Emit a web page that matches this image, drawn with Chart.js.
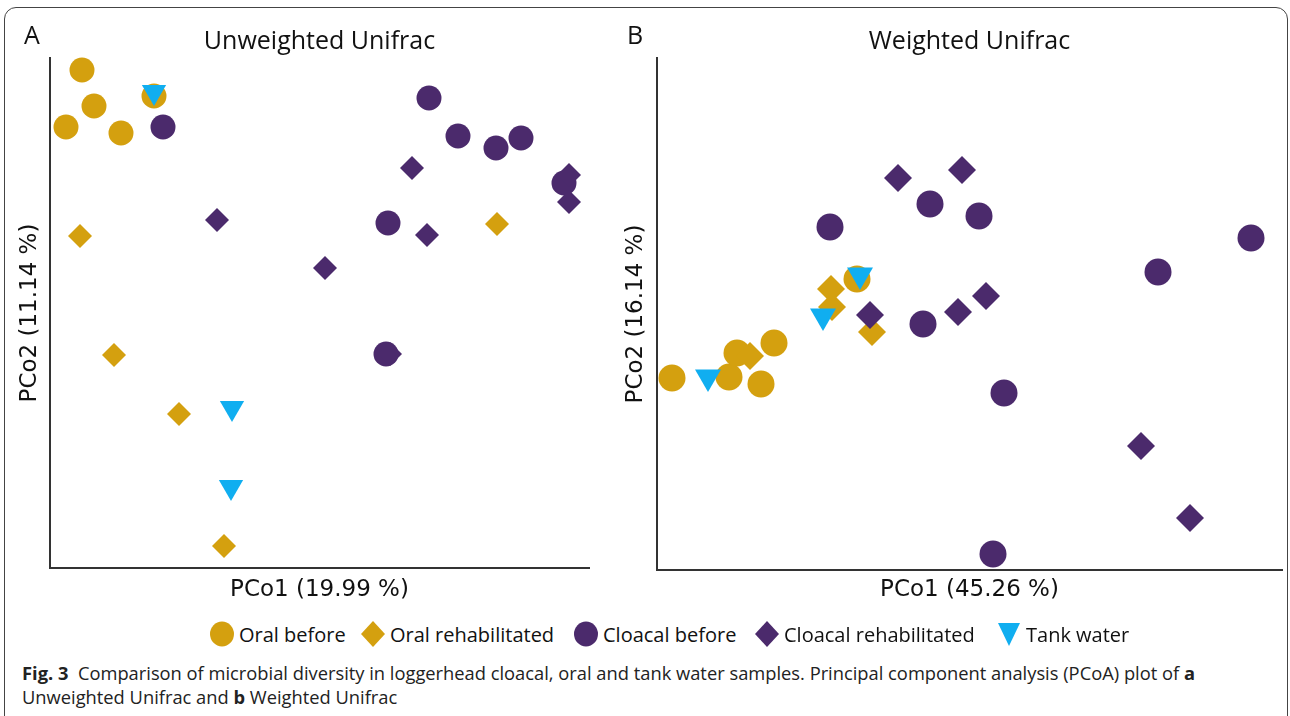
<!DOCTYPE html>
<html>
<head>
<meta charset="utf-8">
<script src="https://cdn.jsdelivr.net/npm/chart.js@4.4.1/dist/chart.umd.min.js"></script>
<style>
  html, body { margin: 0; padding: 0; background: #fff; }
  body { width: 1290px; height: 716px; position: relative; overflow: hidden; font-family: "Open Sans", sans-serif; color: #111; }
  #frame { position: absolute; left: 4px; top: 7px; width: 1284px; height: 730px; border: 1.5px solid #444; border-radius: 12px; box-sizing: border-box; }
  canvas { position: absolute; top: 0; }
  #cA { left: 0; }
  #cB { left: 606px; }
  .panel { position: absolute; font-size: 25px; font-family: "Open Sans", sans-serif; color: #111; line-height: 1; }
  .leg { position: absolute; top: 621px; height: 26px; display: flex; align-items: center; font-size: 20px; font-family: "Open Sans", sans-serif; color: #111; white-space: nowrap; }
  .leg svg { margin-right: 4px; }
  .cap { position: absolute; left: 22px; font-size: 17.5px; font-family: "Open Sans", sans-serif; color: #222; white-space: nowrap; transform-origin: left center; }
  .cap b { font-weight: 700; }
</style>
</head>
<body>
<div id="frame"></div>
<canvas id="cA" width="640" height="620"></canvas>
<canvas id="cB" width="684" height="620"></canvas>
<div class="panel" style="left:24px; top:22px;">A</div>
<div class="panel" style="left:627px; top:22px;">B</div>
<div id="legend"></div>
<div class="cap" id="cap1" style="top:661px;"><b>Fig. 3</b>&nbsp; Comparison of microbial diversity in loggerhead cloacal, oral and tank water samples. Principal component analysis (PCoA) plot of <b>a</b></div>
<div class="cap" id="cap2" style="top:685px;">Unweighted Unifrac and <b>b</b> Weighted Unifrac</div>
<script>
// ---- Data (arbitrary PCoA units) ----
const seriesNames = ["Oral before", "Oral rehabilitated", "Cloacal before", "Cloacal rehabilitated", "Tank water"];
const seriesColors = ["#D4A00F", "#D4A00F", "#4B2A6C", "#4B2A6C", "#10AEF0"];

// Panel A: Unweighted Unifrac  [PCo1, PCo2]
const unwOralBefore = [[32,498],[44,462],[16,441],[71,435],[104,472]];
const unwOralRehab = [[30,332],[64,213],[129,154],[174,22],[447,344]];
const unwCloacalBefore = [[113,441],[379,470],[408,432],[446,420],[471,430],[514,385],[338,345],[336,214]];
const unwCloacalRehab = [[362,400],[167,348],[275,300],[377,333],[519,393],[519,366],[340,214]];
const unwTank = [[104,476],[182,160],[181,81]];

// Panel B: Weighted Unifrac  [PCo1, PCo2]
const wOralBefore = [[200,291],[15,192],[72,193],[80,217],[117,227],[104,186]];
const wOralRehab = [[174,281],[175,263],[215,238],[93,214]];
const wCloacalBefore = [[273,366],[322,354],[173,343],[594,332],[501,298],[266,246],[347,177],[336,16]];
const wCloacalRehab = [[241,392],[305,400],[213,255],[301,258],[329,274],[484,124],[533,52]];
const wTank = [[203,295],[166,254],[51,193]];

const axisA = { xTitle: "PCo1 (19.99 %)", yTitle: "PCo2 (11.14 %)", xMax: 539, yMax: 510 };
const axisB = { xTitle: "PCo1 (45.26 %)", yTitle: "PCo2 (16.14 %)", xMax: 625, yMax: 512 };

const shapes = ["circle", "rectRot", "circle", "rectRot", "triangle"];
const drawOrder = [4, 3, 2, 1, 0];

function toXY(arr) { return arr.map(p => ({ x: p[0], y: p[1] })); }

function buildDatasets(groups, sizes) {
  return groups.map((g, i) => ({
    label: seriesNames[i],
    data: toXY(g),
    backgroundColor: seriesColors[i],
    borderWidth: 0,
    pointStyle: shapes[i],
    pointRadius: sizes[i],
    pointRotation: i === 4 ? 180 : 0,
    order: drawOrder[i],
    clip: false
  }));
}

function makeChart(id, title, groups, sizes, axis, padRight, yWidth, xHeight) {
  const axisFont = { family: "DejaVu Sans", size: 23, lineHeight: 1.2 };
  return new Chart(document.getElementById(id), {
    type: "scatter",
    data: { datasets: buildDatasets(groups, sizes) },
    options: {
      responsive: false,
      animation: false,
      events: [],
      layout: { autoPadding: false, padding: { left: 0, right: padRight, top: 0, bottom: 0 } },
      plugins: {
        legend: { display: false },
        tooltip: { enabled: false },
        title: {
          display: true, text: title, fullSize: false, color: "#111",
          font: { family: "Open Sans", size: 25, weight: "normal", lineHeight: 1.2 },
          padding: { top: 27, bottom: 1 }
        }
      },
      scales: {
        x: {
          type: "linear", min: 0, max: axis.xMax,
          grid: { display: false, drawTicks: false },
          border: { display: true, color: "#333", width: 2 },
          ticks: { display: false },
          title: { display: true, text: axis.xTitle, color: "#111", font: axisFont, padding: { top: 0, bottom: 16 } },
          afterFit: s => { s.height = xHeight; }
        },
        y: {
          type: "linear", min: 0, max: axis.yMax,
          grid: { display: false, drawTicks: false },
          border: { display: true, color: "#333", width: 2 },
          ticks: { display: false },
          title: { display: true, text: axis.yTitle, color: "#111", font: axisFont, padding: { top: 16, bottom: 0 } },
          afterFit: s => { s.width = yWidth; }
        }
      }
    }
  });
}

makeChart("cA", "Unweighted Unifrac",
  [unwOralBefore, unwOralRehab, unwCloacalBefore, unwCloacalRehab, unwTank],
  [12.5, 12, 12.5, 12, 14], axisA, 51, 50, 52);
makeChart("cB", "Weighted Unifrac",
  [wOralBefore, wOralRehab, wCloacalBefore, wCloacalRehab, wTank],
  [13.5, 14, 13.5, 14, 15], axisB, 8, 51, 50);

// ---- HTML legend ----
const legendX = [209, 360, 573, 754, 996];
function markerSVG(i) {
  const c = seriesColors[i];
  let shape;
  if (shapes[i] === "circle") shape = `<ellipse cx="13" cy="13" rx="12" ry="12.5" fill="${c}"/>`;
  else if (shapes[i] === "rectRot") shape = `<polygon points="13,0 25,13 13,26 1,13" fill="${c}"/>`;
  else shape = `<polygon points="2,2 24,2 13,25" fill="${c}"/>`;
  return `<svg width="26" height="26" viewBox="0 0 26 26">${shape}</svg>`;
}
const lg = document.getElementById("legend");
seriesNames.forEach((n, i) => {
  const d = document.createElement("div");
  d.className = "leg";
  d.style.left = legendX[i] + "px";
  d.innerHTML = markerSVG(i) + `<span>${n}</span>`;
  lg.appendChild(d);
});

// fit caption width
const cap1 = document.getElementById("cap1");
const w = cap1.getBoundingClientRect().width;
const sx = 1173 / w;
cap1.style.transform = `scaleX(${sx})`;
document.getElementById("cap2").style.transform = `scaleX(${sx})`;
</script>
</body>
</html>
